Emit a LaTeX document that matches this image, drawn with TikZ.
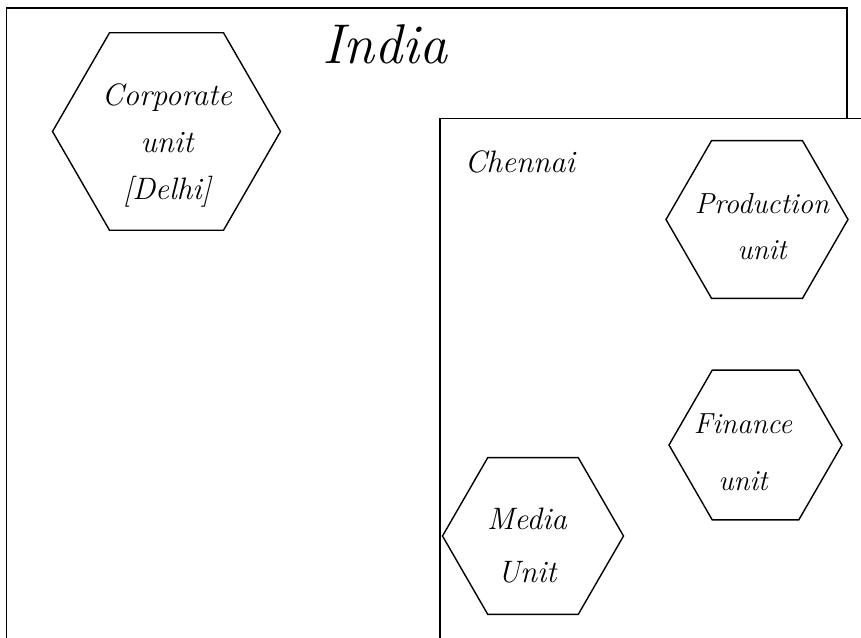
\documentclass[tikz,border=0pt]{standalone}
\usepackage{fontspec}
\usetikzlibrary{shapes.geometric}
\begin{document}
\begin{tikzpicture}[x=1pt,y=-1pt,
  frame/.style={draw=black,line width=1.8pt},
  hexa/.style={draw=black,line width=1.4pt,regular polygon,regular polygon sides=6,
    inner sep=0pt,outer sep=0pt},
  hand/.style={font=\fontsize{#1}{#1}\selectfont\itshape,align=center,inner sep=0pt},
  hand/.default=28]
\useasboundingbox (0,0) rectangle (861,637);
\clip (0,0) rectangle (861,637);
% outer frame: India
\draw[frame] (6.5,8) rectangle (847,660);
\node[hand=56,anchor=base] (india) at (385,63) {India};
\node[hexa,minimum size=228pt] (corp) at (166.5,131.5) {};
\node[hand=31,text depth=0pt] (corptext) at (167,142) {Corporate\\[16pt]unit\\[16pt][Delhi]};
% inner frame: Chennai
\draw[frame,fill=white] (440,118.5) rectangle (890,660);
\node[hand=31,anchor=base] (chennai) at (520,172) {Chennai};
\node[hexa,minimum size=182pt] (prod) at (757,219.5) {};
\node[hand=29] (prodtext) at (762,227) {Production\\[17pt]unit};
\node[hexa,minimum size=173pt] (fin) at (755.5,445) {};
\node[hand=29] (fintext) at (743,452) {Finance\\[28pt]unit};
\node[hexa,minimum size=181pt] (media) at (533,536) {};
\node[hand=31] (mediatext) at (527,546) {Media\\[22pt]Unit};
\end{tikzpicture}
\end{document}
